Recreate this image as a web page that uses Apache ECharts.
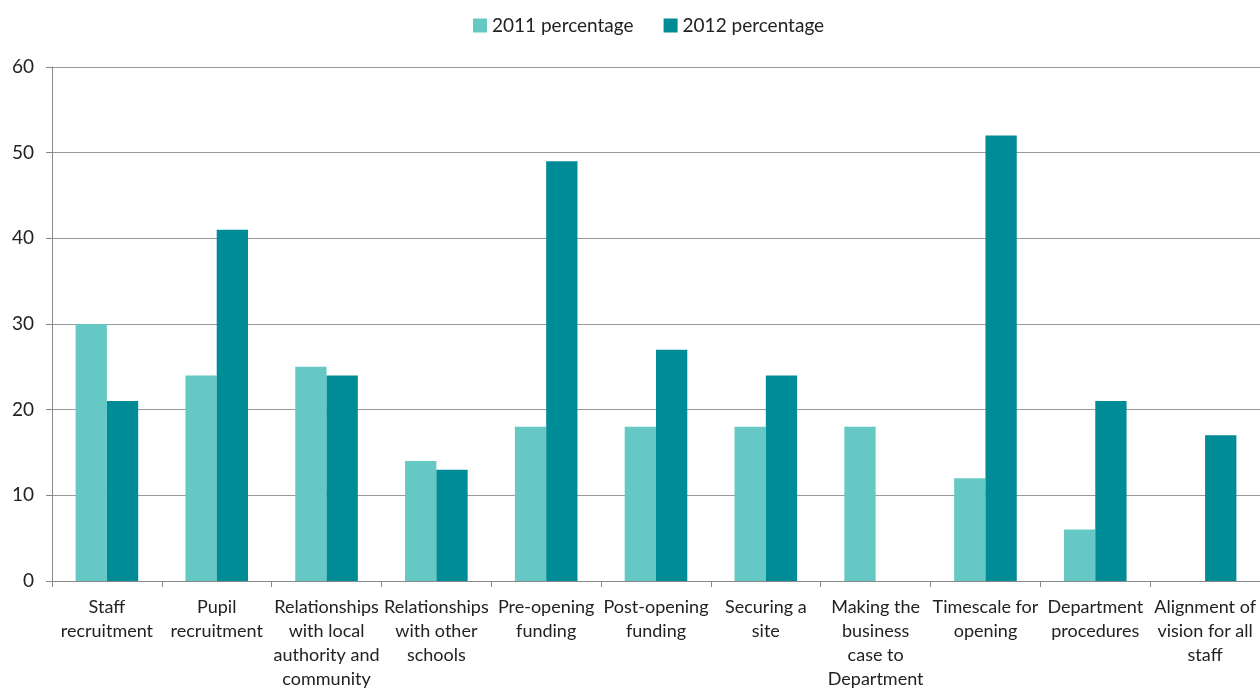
<!DOCTYPE html>
<html><head><meta charset="utf-8">
<script src="https://cdn.jsdelivr.net/npm/echarts@6/dist/echarts.min.js"></script>
<style>html,body{margin:0;padding:0;background:#fff}#c{width:1260px;height:689px}</style>
</head><body><div id="c"></div>
<script>
const categories = ["Staff\nrecruitment","Pupil\nrecruitment","Relationships\nwith local\nauthority and\ncommunity","Relationships\nwith other\nschools","Pre-opening\nfunding","Post-opening\nfunding","Securing a\nsite","Making the\nbusiness\ncase to\nDepartment","Timescale for\nopening","Department\nprocedures","Alignment of\nvision for all\nstaff"];
const values2011 = [30,24,25,14,18,18,18,18,12,6,0];
const values2012 = [21,41,24,13,49,27,24,0,52,21,17];
const seriesNames = ["2011 percentage","2012 percentage"];
const yTicks = {min:0,max:60,interval:10};
const font = "Lato";
const chart = echarts.init(document.getElementById('c'));
chart.setOption({
  animation:false,
  textStyle:{fontFamily:font},
  legend:{top:11,left:468,itemWidth:14,itemHeight:14,itemGap:30,itemTextGap:4,icon:'rect',
    textStyle:{fontSize:19,color:'#222',fontFamily:font},data:seriesNames},
  grid:{left:52,right:0,top:67,bottom:108,containLabel:false,outerBoundsMode:'none'},
  xAxis:{type:'category',data:categories,
    axisLine:{lineStyle:{color:'#888',width:1}},
    axisTick:{show:true,alignWithLabel:false,length:6,lineStyle:{color:'#888'}},
    axisLabel:{interval:0,fontSize:18,color:'#222',lineHeight:24,margin:14,fontFamily:font}},
  yAxis:{type:'value',min:yTicks.min,max:yTicks.max,interval:yTicks.interval,
    axisLine:{show:true,lineStyle:{color:'#888'}},
    axisTick:{show:true,length:6,lineStyle:{color:'#888'}},
    splitLine:{lineStyle:{color:'#999',width:1}},
    axisLabel:{fontSize:19,color:'#222',margin:18,fontFamily:font}},
  series:[
    {name:seriesNames[0],type:'bar',data:values2011,itemStyle:{color:'#66C8C4'},barGap:'0%',barCategoryGap:'43%'},
    {name:seriesNames[1],type:'bar',data:values2012,itemStyle:{color:'#008C96'},barGap:'0%',barCategoryGap:'43%'}
  ]
});
</script></body></html>
